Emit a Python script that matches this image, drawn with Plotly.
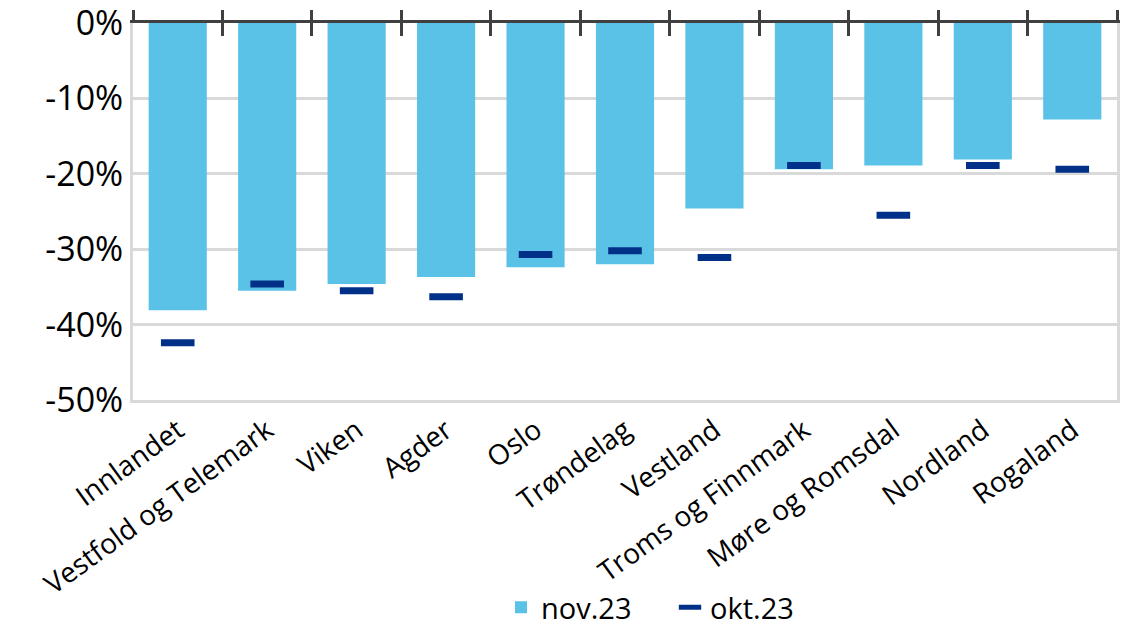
import plotly.graph_objects as go

regions = ["Innlandet", "Vestfold og Telemark", "Viken", "Agder", "Oslo", "Trøndelag",
           "Vestland", "Troms og Finnmark", "Møre og Romsdal", "Nordland", "Rogaland"]
nov23 = [-38.1, -35.5, -34.6, -33.7, -32.4, -32.0, -24.6, -19.4, -18.9, -18.1, -12.8]
okt23 = [-42.4, -34.6, -35.5, -36.3, -30.7, -30.2, -31.1, -18.9, -25.5, -18.9, -19.4]

y_ticks = [0, -10, -20, -30, -40, -50]
y_labels = ["0%", "-10%", "-20%", "-30%", "-40%", "-50%"]

FONT = "Open Sans, Noto Sans, sans-serif"

fig = go.Figure()
fig.add_trace(go.Bar(x=regions, y=nov23, name="nov.23", marker_color="#5BC2E7",
                     marker_line_width=0))
fig.add_trace(go.Scatter(x=regions, y=okt23, name="okt.23", mode="markers",
                         marker=dict(symbol="line-ew", size=24,
                                     line=dict(width=7, color="#003087"))))
# invisible traces so the zero-line axes (ticks above and below) get drawn
for ax in ["x2", "x3"]:
    fig.add_trace(go.Scatter(x=regions, y=[None] * len(regions), xaxis=ax,
                             showlegend=False, hoverinfo="skip"))

rng = [-0.5, len(regions) - 0.5]
fig.update_layout(
    width=1136, height=627,
    margin=dict(l=133, r=19, t=23, b=227, autoexpand=False),
    plot_bgcolor="white", paper_bgcolor="white",
    font=dict(family=FONT, color="black"),
    bargap=0.35,
    showlegend=True,
    legend=dict(orientation="h", x=0.374, xanchor="left", y=-0.55, yanchor="middle",
                font=dict(size=29), itemwidth=30, entrywidth=124,
                entrywidthmode="pixels", traceorder="normal"),
    xaxis=dict(type="category", categoryarray=regions, range=rng, tickangle=-36,
               tickfont=dict(size=28), showline=True, linecolor="#d9d9d9", linewidth=3,
               showgrid=False, ticks="", mirror=False, automargin=False),
    xaxis2=dict(type="category", categoryarray=regions, overlaying="x", side="top",
                range=rng, showline=True, linecolor="#404040", linewidth=3,
                ticks="outside", ticklen=10, tickwidth=3, tickcolor="#404040",
                tickson="boundaries", showticklabels=False, showgrid=False,
                automargin=False),
    xaxis3=dict(type="category", categoryarray=regions, overlaying="x", side="top",
                range=rng, showline=False,
                ticks="inside", ticklen=13, tickwidth=3, tickcolor="#404040",
                tickson="boundaries", showticklabels=False, showgrid=False,
                automargin=False),
    yaxis=dict(range=[-50, 0], tickvals=y_ticks, ticktext=y_labels,
               tickfont=dict(size=34), showgrid=True, gridcolor="#d9d9d9", gridwidth=3,
               showline=True, linecolor="#d9d9d9", linewidth=3, mirror=True,
               zeroline=False, ticks="", ticklabelstandoff=0, automargin=False,
               ticklabeloverflow="allow"),
)

# drop the default 8px page margin so the figure fills the window
fig.write_html("out.html", config={"displayModeBar": False},
               post_script="document.body.style.margin='0';")
